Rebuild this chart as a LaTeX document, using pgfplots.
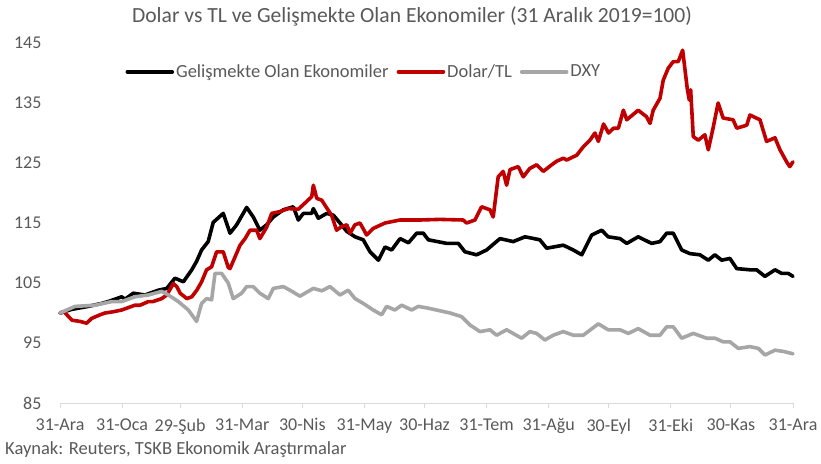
\documentclass[border=0pt]{standalone}
\usepackage{fontspec}
\setmainfont{Carlito}
\usepackage{pgfplots}
\pgfplotsset{compat=1.18}
\definecolor{txt}{HTML}{595959}
\definecolor{tlred}{HTML}{C00000}
\definecolor{dxygray}{HTML}{A6A6A6}
\definecolor{axgray}{HTML}{D9D9D9}
\begin{document}
\begin{tikzpicture}[x=1pt,y=1pt]
\useasboundingbox (0,0) rectangle (821,463);
\node[font=\fontsize{21.6}{26}\selectfont, text=txt] at (412,447) {Dolar vs TL ve Gelişmekte Olan Ekonomiler (31 Aralık 2019=100)};
\node[anchor=west, font=\fontsize{18.5}{22}\selectfont, text=txt, inner sep=0pt] at (5,13) {Kaynak: Reuters, TSKB Ekonomik Araştırmalar};
\begin{axis}[
  at={(60pt,60pt)}, anchor=south west,
  scale only axis, width=733pt, height=360pt,
  xmin=0, xmax=366, ymin=85, ymax=145,
  ytick={85,95,...,145},
  xtick={0,31,60,91,121,152,182,213,244,274,305,335,366},
  xticklabels={31-Ara,31-Oca,29-Şub,31-Mar,30-Nis,31-May,30-Haz,31-Tem,31-Ağu,30-Eyl,31-Eki,30-Kas,31-Ara},
  axis x line*=bottom, axis y line*=left,
  y axis line style={draw=none},
  x axis line style={axgray, line width=0.9pt},
  xtick style={axgray, line width=0.9pt},
  ytick style={draw=none},
  tick align=outside, major tick length=5pt,
  ticklabel style={font=\fontsize{18}{21}\selectfont, text=txt},
  /pgf/number format/assume math mode=true,
  yticklabel style={xshift=-10pt},
  xticklabel style={yshift=-7pt},
  clip=false,
  legend style={at={(0.085,0.92)}, anchor=west, draw=none, fill=none,
    font=\fontsize{18.5}{22}\selectfont, text=txt,
    /tikz/every even column/.append style={column sep=6pt}},
  legend columns=3,
  legend image code/.code={\draw[#1, line cap=round] (0pt,0pt) -- (45pt,0pt);},
  every axis plot/.append style={line width=3.6pt, line join=round, line cap=round},
]
\addplot[black] coordinates {
(0,100)(5.8,100.6)(14.1,101.1)(20.8,101.6)(24,101.9)(28.3,102.4)(30.8,102.7)(32.5,102.3)
(36.6,103.3)(42.4,103)(49.1,103.8)(53.3,104.1)(57.4,105.8)(61.6,105.2)(65.8,107.2)(68.2,108.6)
(70.7,110.5)(74,111.9)(76.5,115.1)(81.5,116.6)(84.9,113.3)(88.2,114.7)(93.2,117.6)(96.5,116)
(99.8,113.8)(103.2,114.7)(106.5,116)(111.5,117.2)(116.5,117.7)(119,115.5)(121.5,116.6)(125.7,116.6)
(126.5,117.4)(129,115.8)(133.2,116.6)(136.5,116.3)(139.8,115)(143.2,113.6)(147.3,112.7)(151.4,112.2)
(154.8,110.2)(159,108.8)(162.3,111)(165.6,110.5)(169.8,112.4)(174,111.7)(178.1,113.3)(181.4,113.3)
(183.9,112.2)(193.1,111.6)(198.9,111.6)(202.2,110.2)(208,109.7)(213,110.5)(219.7,112.4)(226.3,111.9)
(232.2,112.7)(239.6,112.2)(243,110.8)(251.3,111.3)(256.3,110.5)(260.5,109.7)(265.5,113)(270.5,113.8)
(273.7,112.7)(279.6,112.4)(283,111.6)(288.7,112.7)(295.4,111.6)(299.6,111.9)(302.9,113.3)(306.2,113.3)
(310.4,110.5)(314.5,109.9)(319.5,109.7)(323.7,108.8)(327,109.7)(330.4,108.8)(334.5,109.1)(337.9,107.4)
(344.5,107.2)(347.8,107.2)(352,106.1)(357,107.2)(360.3,106.6)(363.6,106.6)(366,106.1)
};
\addlegendentry{Gelişmekte Olan Ekonomiler}
\addplot[tlred] coordinates {
(0,100)(2,100.2)(4,99.5)(6,98.8)(10,98.6)(13.3,98.3)(15.8,99.1)(20,99.7)(22.5,100)(26.5,100.2)
(30.8,100.5)(33.3,100.8)(37.4,101.3)(40,101.3)(44.1,101.9)(46.4,101.9)(50.8,102.4)(53.3,103)
(56.6,104.9)(58.3,104.4)(60,103.3)(63.3,102.4)(65.8,102.7)(68.3,103.8)(70.7,105.2)(73.2,107.2)
(75.7,107.7)(78.2,110.2)(81.5,110.2)(84,107.6)(84.9,107.4)(89.9,111.3)(92.4,112.4)(94.9,113.8)
(98.2,113.8)(99.8,112.4)(103.2,114.3)(105.7,116.6)(109.8,116.9)(114,117.4)(119,117.3)(123.2,118.6)
(125.7,119.4)(126.5,121.3)(128.2,119.1)(130.7,118.8)(133.2,117.5)(135.6,116.3)(138.1,113.8)(140.6,114.4)
(143.2,114.7)(144.8,113.3)(147.3,114.7)(149.8,115)(153.1,113)(156.4,114.1)(162.3,115)(169.8,115.5)
(179.7,115.5)(189.7,115.6)(201.3,115.5)(203,115)(207.2,115.5)(210.5,117.7)(214.7,117.2)(216.3,116)
(218.8,122.7)(221.3,123.6)(223,121.3)(224.7,123.9)(228.8,124.4)(231.3,122.7)(234.6,124.1)(238,124.7)
(241.3,123.6)(245.5,124.7)(248,125.3)(251.3,125.8)(253,125.5)(258,126.3)(261.3,127.7)(264.6,128.8)
(267.1,130)(268.8,128.6)(271.4,131.5)(273.9,130)(276.4,130.8)(278.8,130.8)(281.3,133.8)(283,132.2)
(288.7,133.8)(292.9,132.7)(294.6,131.6)(296.2,133.8)(299.6,135.8)(301.2,138.8)(303.7,140.8)(306.2,141.9)
(308.7,141.9)(310.9,143.8)(313.2,137.4)(314.2,135.5)(314.9,137.2)(316.2,129.4)(318.7,128.8)(322,129.7)
(323.7,127.2)(326.2,131)(328.6,135)(331.1,132.5)(336.1,132.2)(337.9,130.8)(342.9,131.3)(344.5,133)
(349.5,132.2)(352.8,128.6)(357,129.2)(359.5,127.2)(362.8,125.2)(364.4,124.4)(366,125.2)
};
\addlegendentry{Dolar/TL}
\addplot[dxygray] coordinates {
(0,100)(7.5,101.1)(17.5,101.3)(25.8,101.9)(30.8,101.9)(37.4,102.7)(44.1,103)(50.8,103.6)
(54.1,103)(59.1,101.9)(64.1,100.5)(68.2,98.6)(70.7,101.6)(73.2,102.4)(75.7,102.2)(77.4,106.6)
(80.7,106.6)(84,105)(86.5,102.4)(90.7,103.3)(93.2,104.4)(96.5,104.4)(99.8,103.3)(104,102.4)
(106.5,104.1)(111.5,104.4)(114.8,103.8)(119.8,102.8)(126.5,104.1)(130.7,103.7)(134.8,104.4)(139.8,103)
(143.9,103.8)(147.3,102.4)(151.4,101.6)(156.4,100.5)(160.6,99.7)(163.1,101.1)(167.2,100.5)(170.6,101.3)
(175.6,100.5)(178.9,101.1)(183.9,100.8)(188,100.5)(194.7,100)(200.5,99.4)(204.7,98)(209.7,96.9)
(214.7,97.2)(218,96.3)(223,97.2)(230.5,95.8)(234.6,96.9)(238,96.6)(242.1,95.5)(246.3,96.3)
(251.3,96.9)(256.3,96.3)(261.3,96.3)(268.8,98.2)(273.7,97.2)(279.6,97.2)(283.8,96.6)(288.7,97.4)
(294.6,96.3)(299.6,96.3)(302.9,97.7)(306.2,97.7)(310.4,95.8)(316.2,96.6)(322.9,95.8)(327,95.8)
(331.1,95.2)(334.5,95.2)(338.7,94.1)(344.5,94.4)(348.7,94.1)(352,93)(357,93.8)(361.2,93.6)(366,93.2)
};
\addlegendentry{DXY}
\end{axis}
\end{tikzpicture}
\end{document}
